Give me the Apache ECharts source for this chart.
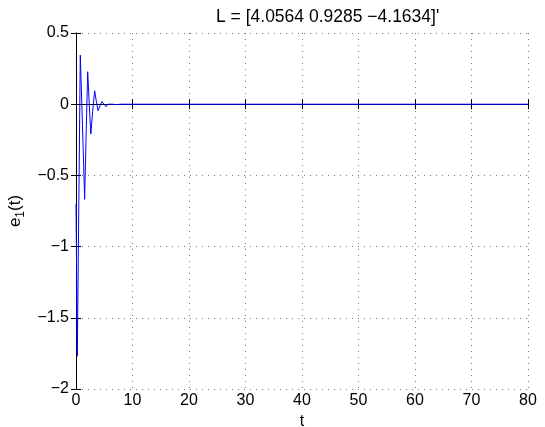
<!DOCTYPE html>
<html><head><meta charset="utf-8">
<script src="https://cdn.jsdelivr.net/npm/echarts@6/dist/echarts.min.js"></script>
<style>html,body{margin:0;padding:0;background:#fff}#c{width:545px;height:427px}</style>
</head><body><div id="c"></div>
<script>
const tValues = [0, 0.23, 0.5, 0.76, 1.15, 1.53, 1.8, 2.07, 2.35, 2.62, 2.95, 3.3, 3.6, 3.9, 4.25, 4.6, 4.95, 5.3, 5.65, 6.0, 6.5, 7.0, 8, 80];
const e1Values = [-0.7, -1.77, -0.7, 0.345, -0.15, -0.668, -0.2, 0.228, 0.0, -0.21, -0.05, 0.095, 0.02, -0.046, -0.01, 0.018, 0, -0.017, 0, 0.006, 0, -0.003, 0, 0];
const xTicks = [0, 10, 20, 30, 40, 50, 60, 70, 80];
const yTicks = [-2, -1.5, -1, -0.5, 0, 0.5];
const titleText = "L = [4.0564 0.9285 \u22124.1634]'";

const fmtY = v => (v < 0 ? '\u2212' : '') + Math.abs(v);
const chart = echarts.init(document.getElementById('c'), null, {renderer: 'canvas'});
const font = "'Liberation Sans', Arial, Helvetica, sans-serif";
const baseAxis = {
  axisLine: {show: true, lineStyle: {color: '#000', width: 1}},
  axisTick: {show: true, inside: true, length: 5, lineStyle: {color: '#000'}},
  splitLine: {show: false}
};
chart.setOption({
  animation: false,
  title: {text: titleText, left: 211, top: 3, textStyle: {fontFamily: font, fontSize: 17.5, fontWeight: 'normal', color: '#000'}},
  grid: {left: 76, right: 17, top: 33, bottom: 38, containLabel: false, outerBoundsMode: 'none'},
  xAxis: [
    Object.assign({}, baseAxis, {type: 'value', min: 0, max: 80, interval: 10, position: 'bottom',
      name: 't', nameLocation: 'middle', nameGap: 19,
      nameTextStyle: {fontFamily: font, fontSize: 16, color: '#000'},
      axisLabel: {fontFamily: font, fontSize: 16, color: '#000', margin: 4},
      splitLine: {show: true, lineStyle: {color: '#777', type: [1, 5], width: 1}}}),
    Object.assign({}, baseAxis, {type: 'value', min: 0, max: 80, interval: 10, position: 'top', axisLabel: {show: false}})
  ],
  yAxis: [
    Object.assign({}, baseAxis, {type: 'value', min: -2, max: 0.5, interval: 0.5, position: 'left',
      name: '{a|e}{s|1}{a|(t)}', nameLocation: 'middle', nameGap: 44, nameRotate: 90,
      nameTextStyle: {rich: {a: {fontFamily: font, fontSize: 17, color: '#000'}, s: {fontFamily: font, fontSize: 12, color: '#000', verticalAlign: 'bottom', padding: [10, 0, 0, 0]}}},
      axisLabel: {fontFamily: font, fontSize: 16, color: '#000', margin: 7, formatter: fmtY},
      splitLine: {show: true, lineStyle: {color: '#777', type: [1, 5], width: 1}}}),
    Object.assign({}, baseAxis, {type: 'value', min: -2, max: 0.5, interval: 0.5, position: 'right', axisLabel: {show: false}})
  ],
  series: [{
    type: 'line', xAxisIndex: 0, yAxisIndex: 0, showSymbol: false, symbol: 'none',
    lineStyle: {color: '#0000ff', width: 1},
    data: tValues.map((t, i) => [t, e1Values[i]])
  }]
});
</script></body></html>
